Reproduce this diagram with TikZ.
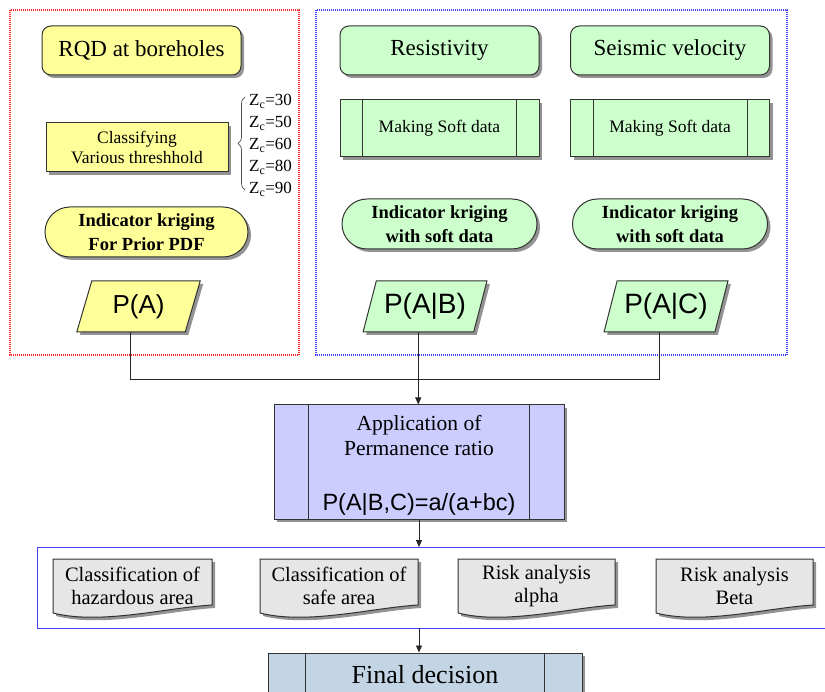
\documentclass[tikz,border=0pt]{standalone}
\usepackage{fontspec}
\setmainfont{Liberation Serif}
\newfontfamily\arialf{Liberation Sans}
\usetikzlibrary{shapes.geometric,shapes.misc,shadows,arrows.meta,calc,decorations.pathreplacing}
\definecolor{yel}{HTML}{FFFF99}
\definecolor{grn}{HTML}{CCFFCC}
\definecolor{lav}{HTML}{CCCCFF}
\definecolor{docg}{HTML}{E6E6E6}
\definecolor{fin}{HTML}{C3D5E4}
\definecolor{edge}{HTML}{333333}
\newcommand\fs[2]{\fontsize{#1pt}{#2pt}\selectfont}
\newcommand\vlines[2]{%
  \draw[edge,line width=1pt] ($(#1.north west)+(#2,0)$) -- ($(#1.south west)+(#2,0)$);
  \draw[edge,line width=1pt] ($(#1.north east)+(-#2,0)$) -- ($(#1.south east)+(-#2,0)$);}
\newcommand\docshape[3]{% x0, x1, top
  \path[docbox] (#1,#3) -- (#2,#3) -- (#2,{#3+46})
    .. controls ({#2-0.3*(#2-#1)},{#3+49}) and ({#1+0.3*(#2-#1)},{#3+66}) .. (#1,{#3+54}) -- cycle;}
\tikzset{
  sh/.style={drop shadow={shadow xshift=3pt,shadow yshift=-3pt,fill=black!50,opacity=.85}},
  box/.style={draw=edge, line width=1pt, sh, inner sep=2pt, align=center},
  rbox/.style={box, rectangle, rounded corners=9pt, minimum width=199pt, minimum height=49pt, font=\fs{23}{27}},
  stad/.style={box, rounded rectangle, minimum width=199pt, minimum height=50pt, font=\bfseries\fs{18.5}{24}},
  pbox/.style={box, rectangle, minimum width=199pt, minimum height=57pt, font=\fs{17.5}{21}},
  para/.style={box, trapezium, trapezium stretches=true, minimum width=124pt, minimum height=51pt, inner sep=0pt, font=\arialf\fs{28}{32}},
  docbox/.style={fill=docg, draw=edge, line width=1pt, sh},
  doctext/.style={align=center, font=\fs{20.5}{23}, inner sep=0pt},
  ln/.style={line width=0.9pt, draw=black!85},
  arr/.style={ln, -{Triangle[length=7pt,width=6pt]}},
  zc/.style={anchor=base west, inner sep=0pt, font=\fs{17}{20}},
}
\begin{document}
\begin{tikzpicture}[x=1pt,y=-1pt]
\useasboundingbox (0,0) rectangle (825,692);
\clip (0,0) rectangle (825,692);
% group frames
\draw[red!85, line width=1.3pt, dash pattern=on 1pt off 1pt] (10,10) rectangle (299,355);
\draw[blue!75, line width=1.3pt, dash pattern=on 1pt off 1pt] (316,10) rectangle (787,355);
% left column
\node[rbox, fill=yel] (rqd) at (141.5,50.5) {RQD at boreholes};
\node[box, rectangle, fill=yel, minimum width=182pt, minimum height=49pt, font=\fs{17.5}{20}] (cls) at (137,147.5) {Classifying\\Various threshhold};
\draw[gray!60!black, line width=0.7pt, decorate, decoration={brace,amplitude=7pt}] (245,190) -- (245,97);
\foreach \v/\yy in {30/106,50/128,60/150,80/172,90/194}
  \node[zc] (z\v) at (249,\yy) {Z\textsubscript{c}=\v};
\node[stad, fill=yel, minimum width=207pt] (ikp) at (146.5,232) {Indicator kriging\\For Prior PDF};
\node[para, fill=yel, trapezium left angle=71, trapezium right angle=109, font=\arialf\fs{26}{30}] (pa) at (138.5,306.5) {P(A)};
% right columns
\node[rbox, fill=grn] (res) at (439.5,50.5) {Resistivity};
\node[rbox, fill=grn] (sei) at (670,50.5) {Seismic velocity};
\node[pbox, fill=grn] (ms1) at (439.5,128.5) {Making Soft data};
\node[pbox, fill=grn] (ms2) at (670,128.5) {Making Soft data};
\vlines{ms1}{23}
\vlines{ms2}{23}
\node[stad, fill=grn] (ik1) at (439.5,224) {Indicator kriging\\with soft data};
\node[stad, fill=grn] (ik2) at (670,224) {Indicator kriging\\with soft data};
\node[para, fill=grn, trapezium left angle=67, trapezium right angle=113] (pab) at (425,306.5) {P(A|B)};
\node[para, fill=grn, trapezium left angle=67, trapezium right angle=113] (pac) at (666,306.5) {P(A|C)};
% permanence
\node[box, rectangle, fill=lav, minimum width=290pt, minimum height=114pt] (perm) at (419,462) {};
\vlines{perm}{35}
\node[align=center, font=\fs{21.5}{25}, inner sep=0pt] (permt) at (419,436) {Application of\\Permanence ratio};
\node[font=\arialf\fs{23.5}{27}, inner sep=0pt] (permf) at (419,504) {P(A|B,C)=a/(a+bc)};
% connectors
\coordinate (hy) at (0,379);
\draw[ln] (pa.bottom side) |- (hy -| pac.bottom side) -- (pac.bottom side);
\draw[arr] (pab.bottom side) -- (pab.bottom side |- perm.north);
% output group
\draw[blue!75, line width=1pt] (830,547) -- (37,547) -- (37,628) -- (830,628);
\coordinate (gt) at (419,547);
\coordinate (gb) at (419,628);
\draw[arr] (perm.south) -- (gt);
\docshape{53}{212}{559}
\docshape{260}{418}{559}
\docshape{458}{615}{559}
\docshape{656}{813}{559}
\node[doctext] (d1) at (132.5,586) {Classification of\\hazardous area};
\node[doctext] (d2) at (339,586) {Classification of\\safe area};
\node[doctext] (d3) at (536.5,586) {Risk analysis\\alpha};
\node[doctext] (d4) at (734.5,586) {Risk analysis\\Beta};
% final
\node[box, rectangle, fill=fin, minimum width=314pt, minimum height=44pt, font=\fs{26}{30}] (final) at (425,675) {Final decision};
\vlines{final}{38}
\draw[arr] (gb) -- (gb |- final.north);
\end{tikzpicture}
\end{document}
